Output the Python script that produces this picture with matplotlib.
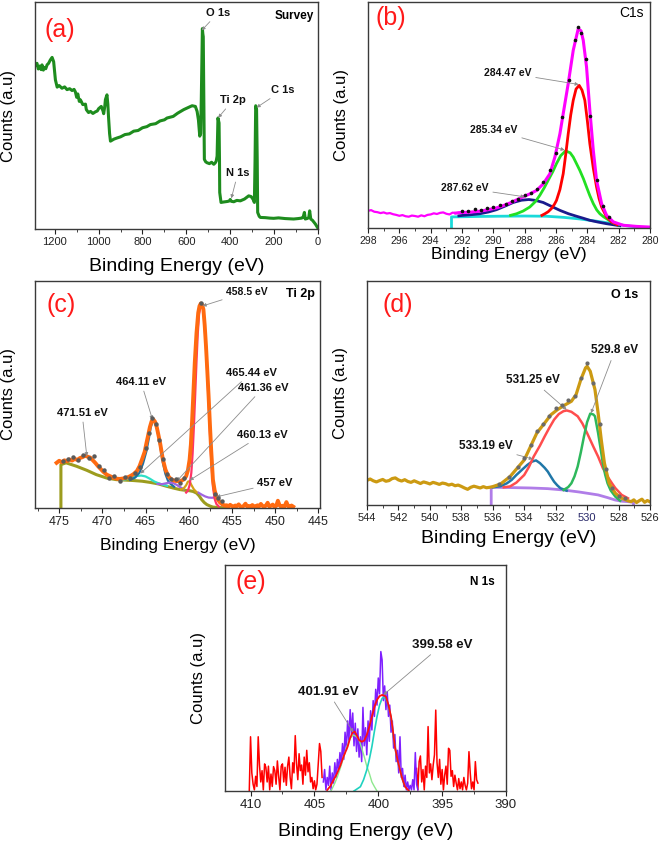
import numpy as np
import matplotlib
matplotlib.use("Agg")
import matplotlib.pyplot as plt
from matplotlib.ticker import MultipleLocator

plt.rcParams['font.family'] = ['Liberation Sans', 'DejaVu Sans']

# ---------------- (a) survey ----------------
survey_be = [1290, 1281, 1275, 1268, 1262, 1258, 1252, 1247, 1241, 1235,
             1228, 1220, 1212, 1205, 1197, 1189, 1180, 1167, 1155, 1144,
             1132, 1121, 1112, 1106, 1100, 1095, 1088, 1083, 1072, 1060,
             1056, 1046, 1037, 1026, 1015, 1006, 1000, 988, 980, 977,
             972, 969, 962, 958, 955, 950, 946, 930, 916, 900,
             880, 860, 840, 820, 800, 780, 764, 740, 720, 700,
             688, 660, 640, 612, 590, 574, 559, 551, 545, 539,
             535, 532, 529, 527, 525, 523, 520, 518, 512, 506,
             495, 485, 475, 468, 464, 460, 458, 456, 453, 451,
             449, 448, 442, 430, 415, 405, 400, 395, 384, 370,
             354, 335, 316, 305, 296, 290, 287, 284, 282, 280,
             277, 275, 268, 263, 240, 220, 202, 180, 150, 130,
             111, 90, 75, 68, 62, 58, 50, 42, 38, 33,
             25, 12, 0]
survey_y = [72.0, 73.0, 70.5, 71.8, 70.2, 72.3, 70.0, 71.2, 70.6, 72.3,
            73.0, 74.5, 75.6, 73.7, 65.7, 62.5, 63.2, 62.0, 62.6, 61.4,
            61.8, 61.0, 61.5, 60.4, 58.0, 59.5, 56.2, 56.9, 54.8, 55.0,
            52.6, 51.3, 51.8, 50.9, 51.6, 52.0, 53.0, 54.0, 52.0, 50.8,
            54.0, 57.0, 59.1, 55.0, 49.6, 42.0, 38.7, 39.6, 40.1, 40.6,
            41.6, 41.9, 43.1, 43.4, 44.6, 45.1, 46.0, 46.4, 47.6, 48.1,
            48.9, 49.6, 51.0, 52.6, 53.6, 54.3, 54.0, 51.8, 48.0, 40.9,
            42.0, 56.9, 75.0, 88.3, 86.0, 84.7, 55.0, 30.7, 29.6, 29.2,
            28.8, 29.4, 28.5, 29.2, 29.9, 32.1, 40.0, 48.9, 47.5, 46.7,
            30.0, 16.1, 11.7, 11.9, 12.1, 12.3, 13.0, 12.2, 12.0, 12.6,
            12.4, 13.2, 14.6, 14.3, 13.1, 11.7, 30.0, 54.3, 53.5, 52.6,
            30.0, 7.3, 5.6, 5.1, 5.0, 4.8, 4.7, 4.9, 4.6, 4.5,
            4.4, 4.6, 4.8, 5.1, 7.3, 4.4, 4.6, 5.0, 8.0, 4.4,
            3.8, 2.2, 0.3]

# ---------------- (b) C1s ----------------
c1s_noise_y = [7.6, 7.9, 7.2, 7.0, 6.6, 6.9, 6.4, 6.6, 6.1, 5.8,
               5.4, 5.7, 5.2, 5.0, 5.5, 5.3, 5.0, 5.6, 5.2, 5.8,
               6.0, 6.5, 6.2, 6.7, 6.9, 6.3, 6.0, 6.8, 6.6]
c1s_env_be = [292.2, 291.5, 290.9, 290.4, 289.8, 289.4, 288.9, 288.5, 288.1, 287.7,
              287.24, 286.82, 286.39, 286.07, 285.75, 285.54, 285.22, 284.9, 284.58, 284.4,
              284.26, 284.05, 283.84, 283.62, 283.41, 283.09, 282.77, 282.34, 281.71, 280.85,
              280.0]
c1s_env_y = [6.8, 7.0, 7.4, 8.0, 8.9, 9.8, 11.2, 12.5, 13.8, 15.0,
             16.6, 19.5, 24.0, 31.4, 41.7, 50.6, 63.9, 78.6, 88.2, 87.2,
             83.0, 71.2, 52.1, 34.4, 21.1, 10.8, 5.6, 2.7, 1.2, 0.7,
             0.4]
c1s_red_be = [286.9, 286.71, 286.5, 286.29, 286.1, 285.97, 285.75, 285.54, 285.38, 285.22,
              285.06, 284.9, 284.72, 284.52, 284.34, 284.16, 284.0, 283.84, 283.62, 283.41,
              283.25, 283.09, 282.77, 282.45, 282.1]
c1s_red_y = [5.6, 6.3, 7.2, 8.6, 10.5, 12.2, 17.0, 24.0, 32.5, 41.7,
             50.0, 56.5, 61.5, 63.1, 61.0, 56.5, 47.5, 37.3, 26.5, 18.1,
             13.0, 9.3, 4.9, 2.7, 1.5]
c1s_green_be = [288.9, 288.52, 288.1, 287.67, 287.3, 287.03, 286.75, 286.5, 286.2, 285.97,
                285.7, 285.39, 285.1, 284.9, 284.7, 284.48, 284.25, 284.05, 283.84, 283.62,
                283.4, 283.2, 282.97, 282.77, 282.34, 282.0]
c1s_green_y = [5.6, 6.3, 7.5, 9.3, 11.8, 14.5, 17.8, 21.1, 25.0, 28.5,
               32.0, 34.1, 33.3, 31.4, 28.6, 25.5, 21.8, 18.1, 14.3, 10.8,
               8.0, 6.3, 5.0, 4.1, 2.2, 1.4]
c1s_navy_be = [292.2, 291.93, 291.4, 290.86, 290.3, 289.8, 289.25, 288.73, 288.2, 287.73,
               287.3, 286.82, 286.3, 285.75, 285.2, 284.69, 284.25, 283.84, 283.3, 282.77,
               282.3, 281.92]
c1s_navy_y = [5.4, 5.6, 5.9, 6.3, 7.1, 8.1, 9.7, 11.3, 12.3, 12.6,
              12.2, 11.3, 9.6, 7.8, 6.3, 5.2, 4.3, 3.4, 2.6, 1.9,
              1.4, 1.0]
c1s_base_be = [292.67, 292.67, 291.0, 289.8, 288.0, 286.61, 285.5, 284.48, 283.4, 282.34, 281.5, 280.64]
c1s_base_y = [0, 4.9, 5.1, 5.2, 5.3, 5.2, 4.7, 4.0, 3.0, 1.9, 1.0, 0.3]
c1s_dots_be = [292.0, 291.6, 291.2, 290.8, 290.4, 290.0, 289.6, 289.2, 288.8, 288.4,
               288.0, 287.6, 287.2, 286.8, 286.4, 286.0, 285.6, 285.2, 284.8, 284.6,
               284.4, 284.1, 283.8, 283.4, 283.0, 282.6]
c1s_dots_y = [7.6, 7.4, 8.2, 8.0, 8.9, 9.2, 10.1, 10.6, 11.9, 12.8,
              14.6, 15.4, 17.4, 20.3, 25.8, 33.0, 49.0, 65.5, 83.0, 89.0,
              86.5, 75.0, 49.5, 21.2, 9.6, 4.8]

# ---------------- (c) Ti 2p ----------------
ti_env_be = [475.3, 475.0, 474.7, 474.4, 474.1, 473.8, 473.5, 473.2, 472.9, 472.6,
             472.3, 472.0, 471.7, 471.4, 471.1, 470.8, 470.5, 470.2, 469.9, 469.5,
             469.1, 468.7, 468.3, 468.0, 467.6, 467.2, 466.8, 466.4, 466.0, 465.7,
             465.4, 465.1, 464.9, 464.7, 464.5, 464.3, 464.1, 463.9, 463.7, 463.5,
             463.3, 463.0, 462.7, 462.4, 462.1, 461.8, 461.5, 461.2, 460.9, 460.6,
             460.3, 460.1, 459.9, 459.75, 459.6, 459.45, 459.3, 459.1, 458.9, 458.75,
             458.6, 458.45, 458.3, 458.15, 458.0, 457.85, 457.7, 457.55, 457.4, 457.2,
             457.0, 456.8, 456.6, 456.4, 456.1, 455.8]
ti_env_y = [19.9, 20.8, 20.2, 21.0, 20.6, 21.4, 20.9, 21.6, 21.2, 22.0,
            22.4, 23.0, 22.6, 22.2, 21.0, 19.8, 18.4, 17.2, 16.0, 14.7,
            14.0, 13.3, 12.9, 12.8, 13.0, 13.3, 14.0, 14.9, 16.3, 18.4,
            21.5, 24.8, 28.5, 32.0, 35.6, 38.2, 39.0, 38.0, 35.6, 32.0,
            28.3, 21.5, 17.0, 14.2, 12.9, 12.2, 11.9, 11.8, 12.0, 12.5,
            14.0, 16.5, 21.3, 28.0, 39.0, 51.5, 64.0, 77.0, 86.0, 89.0,
            90.1, 89.5, 87.5, 80.5, 71.3, 60.5, 49.3, 37.0, 25.5, 12.5,
            7.8, 5.1, 3.6, 2.5, 1.6, 1.0]
ti_tail_y = [1.2, 0.6, 1.4, 0.9, 0.4, 1.1, 0.8, 1.6, 0.7, 0.3,
             1.0, 1.9, 0.6, 0.9, 0.4, 1.3, 0.8, 0.5, 1.2, 0.7,
             1.8, 0.9, 0.4, 1.1, 2.3, 0.6, 1.0, 1.5, 0.5, 0.9,
             3.2, 1.2, 0.4, 1.0, 0.7, 2.6, 0.8, 0.5, 1.1, 0.6]
ti_olive_be = [474.8, 474.8, 474.2, 473.0, 471.8, 470.7, 469.5, 468.4, 467.4, 466.4,
               465.4, 464.5, 463.5, 462.6, 461.8, 461.0, 460.4, 459.9, 459.5, 459.1,
               458.8, 458.5, 458.2, 457.9, 457.5, 457.2, 456.5, 455.6]
ti_olive_y = [0, 19.1, 19.9, 18.4, 16.6, 14.7, 13.2, 12.5, 12.3, 12.1,
              11.8, 11.3, 10.6, 9.6, 8.8, 8.1, 7.8, 7.6, 7.3, 6.6,
              5.4, 3.7, 2.4, 1.5, 0.8, 0.4, 0.2, 0.1]
ti_blue_be = [466.8, 466.2, 465.7, 465.3, 464.9, 464.6, 464.4, 464.2, 464.0, 463.8,
              463.6, 463.3, 463.0, 462.7, 462.4, 462.1, 461.7]
ti_blue_y = [12.4, 13.4, 15.6, 19.5, 25.0, 31.0, 35.5, 38.0, 38.2, 36.8,
             33.6, 27.2, 20.0, 15.0, 12.0, 10.6, 9.4]
ti_cyan_be = [467.6, 467.0, 466.5, 466.0, 465.5, 465.0, 464.5, 464.0, 463.5, 463.0, 462.5]
ti_cyan_y = [12.4, 12.9, 13.6, 14.1, 14.3, 13.9, 12.9, 11.7, 10.9, 10.3, 9.8]
ti_purple1_be = [463.6, 463.1, 462.6, 462.2, 461.8, 461.4, 461.0, 460.6]
ti_purple1_y = [10.6, 10.5, 10.9, 11.2, 11.0, 10.2, 9.2, 8.3]
ti_purple2_be = [458.9, 458.5, 458.1, 457.7, 457.3, 457.0, 456.7, 456.4, 456.1]
ti_purple2_y = [6.8, 5.9, 5.1, 4.6, 4.5, 4.7, 4.0, 2.4, 1.2]
ti_gold_be = [460.9, 460.6, 460.3, 460.1, 459.9, 459.7, 459.4, 459.1]
ti_gold_y = [8.2, 8.6, 10.0, 11.6, 11.8, 10.2, 8.2, 7.0]
ti_red_be = [460.3, 460.1, 459.9, 459.7, 459.55, 459.4, 459.25, 459.1, 458.95, 458.8,
             458.6, 458.45, 458.3, 458.15, 458.0, 457.85, 457.7, 457.55, 457.4, 457.2,
             457.0, 456.8, 456.5]
ti_red_y = [6.8, 7.6, 10.0, 15.5, 24.0, 36.0, 50.0, 64.5, 77.0, 85.5,
            89.6, 89.0, 86.5, 79.5, 70.5, 59.0, 46.5, 33.5, 21.5, 9.5,
            4.0, 1.8, 0.6]
ti_dots_be = [474.6, 474.0, 473.4, 472.8, 472.2, 471.6, 471.0, 470.4, 469.8, 469.2,
              468.6, 468.0, 467.4, 466.8, 466.2, 465.6, 465.0, 464.6, 464.2, 463.8,
              463.4, 463.0, 462.5, 462.0, 461.5, 461.0, 460.5, 458.6, 457.0, 456.6,
              456.2]
ti_dots_y = [20.5, 21.8, 22.6, 21.0, 23.4, 22.0, 22.8, 18.5, 16.7, 13.0,
             14.2, 12.0, 13.8, 13.2, 15.4, 18.0, 26.5, 33.0, 39.8, 37.2,
             30.0, 21.8, 14.8, 12.6, 12.9, 11.2, 13.4, 90.5, 6.0, 4.4,
             3.0]

# ---------------- (d) O 1s ----------------
o1s_noise_y = [11.0, 11.6, 10.8, 10.3, 10.9, 11.4, 10.6, 10.9, 11.8, 12.1,
               11.2, 10.7, 11.3, 10.5, 10.1, 10.8, 10.2, 9.6, 10.3, 9.9,
               9.4, 10.1, 9.7, 9.2, 9.8, 9.5, 8.9, 9.3, 8.6, 8.9,
               8.3, 7.6, 7.0, 7.9, 8.4, 8.0, 7.6, 8.2, 7.7, 7.9]
o1s_env_be = [536.0, 535.5, 534.9, 534.5, 534.0, 533.6, 533.2, 532.7, 532.3, 531.9,
              531.5, 531.0, 530.7, 530.4, 530.1, 530.0, 529.8, 529.5, 529.3, 529.1,
              528.9, 528.6, 528.2, 527.8, 527.4]
o1s_env_y = [8.2, 9.4, 12.7, 16.0, 20.1, 26.1, 32.1, 36.6, 40.3, 42.5,
             44.3, 46.3, 49.3, 56.0, 61.2, 61.9, 59.7, 51.5, 41.0, 29.1,
             18.7, 9.7, 5.2, 3.0, 1.9]
o1s_tail_y = [1.5, 2.3, 1.1, 1.9, 2.6, 1.2, 2.0, 1.4]
o1s_red_be = [535.3, 534.9, 534.5, 534.0, 533.7, 533.4, 533.0, 532.7, 532.4, 532.1,
              531.8, 531.5, 531.29, 531.0, 530.6, 530.3, 530.0, 529.6, 529.3, 529.0,
              528.7, 528.4, 528.2, 527.8, 527.4]
o1s_red_y = [7.9, 8.3, 10.0, 13.4, 17.0, 21.6, 26.5, 30.6, 34.5, 38.1,
             40.6, 41.9, 42.2, 41.6, 39.6, 36.4, 32.1, 26.0, 21.6, 16.5,
             12.7, 9.5, 7.5, 4.5, 3.0]
o1s_blue_be = [536.0, 535.5, 535.1, 534.8, 534.5, 534.1, 533.8, 533.5, 533.25, 533.0,
               532.7, 532.5, 532.3, 532.1, 531.9, 531.7, 531.3]
o1s_blue_y = [7.9, 8.4, 9.7, 11.2, 13.4, 16.0, 17.9, 19.4, 19.9, 18.7,
              16.6, 14.9, 12.6, 10.4, 8.8, 7.5, 6.4]
o1s_green_be = [531.5, 531.2, 531.0, 530.8, 530.6, 530.4, 530.2, 530.0, 529.8, 529.6,
                529.5, 529.3, 529.15, 529.0, 528.85, 528.7, 528.5, 528.2, 527.9]
o1s_green_y = [6.7, 8.0, 9.7, 12.8, 17.2, 23.5, 30.6, 37.0, 40.8, 40.4,
               39.6, 32.1, 25.5, 18.7, 13.5, 9.7, 6.5, 3.7, 1.9]
o1s_base_be = [536.1, 536.1, 535.0, 533.6, 532.5, 531.5, 530.5, 529.3, 528.7, 528.2, 527.8, 527.4, 527.05, 527.05]
o1s_base_y = [0, 7.9, 7.8, 7.6, 7.3, 6.7, 5.8, 4.5, 3.3, 2.2, 1.7, 1.5, 1.2, 0]
o1s_dots_be = [535.6, 535.0, 534.4, 534.0, 533.6, 533.2, 532.8, 532.4, 532.0, 531.6,
               531.2, 530.8, 530.4, 530.0, 529.6, 529.2, 528.8, 528.4, 528.0, 527.6]
o1s_dots_y = [9.5, 12.4, 17.0, 21.0, 26.8, 32.9, 36.2, 39.8, 43.2, 44.6,
              47.0, 48.8, 56.8, 63.5, 54.5, 36.0, 16.0, 7.5, 4.2, 3.0]

# ---------------- (e) N 1s ----------------
n1s_left_y = [0, 24.0, 8.0, 3.0, 0.5, 6.5, 2.0, 24.0, 11.5, 4.0,
              9.0, 0.5, 12.0, 10.5, 4.0, 11.0, 0.5, 7.5, 2.0, 10.8,
              9.0, 3.0, 13.3, 6.5, 0.5, 11.0, 12.0, 4.0, 10.5, 2.5,
              11.0, 15.0, 6.0, 1.0, 12.5, 8.0, 24.5, 12.0, 5.0, 16.5,
              9.0, 11.5, 3.0, 15.0, 7.0, 18.0, 8.5, 12.5, 4.0, 6.0,
              1.0, 4.5, 0.5, 3.0, 12.0, 21.0, 17.5, 6.0]
n1s_mid_y = [4.0, 9.5, 0.5, 6.0, 2.5, 11.0, 0.5, 8.0, 3.5, 12.5,
             6.0, 14.0, 9.0, 17.0, 11.5, 21.0, 14.0, 26.0, 18.0, 31.0,
             22.0, 36.0, 25.0, 34.5, 20.0, 30.0, 17.5, 27.5, 15.0, 24.0,
             13.0, 37.0, 20.0, 28.0, 16.0, 31.0, 22.0, 35.5, 27.0, 40.0,
             33.0, 45.0, 38.0, 50.0, 43.0, 61.7, 58.0, 40.0, 46.5, 36.0,
             44.0, 33.0, 38.0, 26.0, 31.0, 19.0, 25.0, 13.0, 18.0, 8.0,
             24.0, 6.0, 10.0, 2.0, 7.0, 0.5, 4.0, 0.5, 2.5, 0.5,
             5.0, 0.5, 17.0, 3.0, 0.5]
n1s_right_y = [10.0, 0.5, 13.0, 15.5, 4.0, 9.5, 0.5, 11.0, 6.0, 28.5,
               8.0, 12.0, 5.0, 11.5, 16.0, 35.8, 12.5, 6.0, 14.0, 3.0,
               9.5, 0.5, 7.0, 11.0, 3.0, 18.9, 18.0, 6.5, 9.0, 2.0,
               7.0, 3.5, 0.5, 5.5, 1.0, 4.0, 0.5, 6.0, 2.5, 0.5,
               3.5, 17.4, 8.0, 1.0, 4.0, 0.5, 13.0, 5.0, 3.5]
n1s_fit_be = [404.0, 403.75, 403.5, 403.25, 403.0, 402.7, 402.4, 402.2, 402.0, 401.85,
              401.7, 401.5, 401.3, 401.1, 400.9, 400.7, 400.5, 400.3, 400.1, 399.9,
              399.7, 399.55, 399.4, 399.2, 399.0, 398.85, 398.7, 398.5, 398.3, 398.1,
              397.9, 397.6]
n1s_fit_y = [0.4, 2.2, 4.9, 7.5, 10.8, 15.5, 19.6, 23.5, 26.0, 26.3,
             24.8, 22.5, 21.8, 22.3, 24.8, 28.5, 32.9, 37.2, 40.3, 42.0,
             42.5, 42.3, 41.7, 38.0, 32.9, 26.5, 19.6, 14.0, 9.3, 5.0,
             1.9, 0]
n1s_green_be = [403.7, 403.4, 403.2, 402.95, 402.7, 402.45, 402.2, 401.95, 401.7, 401.5,
                401.3, 401.1, 400.9, 400.7, 400.5, 400.3, 400.1]
n1s_green_y = [0, 3.5, 6.3, 10.5, 15.2, 19.8, 23.3, 24.8, 24.0, 22.6,
               19.0, 15.2, 11.0, 7.8, 4.0, 1.9, 0]
n1s_cyan_be = [401.9, 401.4, 401.15, 400.9, 400.7, 400.5, 400.3, 400.1, 399.9, 399.7,
               399.5, 399.3, 399.0, 398.85, 398.7, 398.5, 398.3, 398.1, 397.9]
n1s_cyan_y = [0, 1.9, 5.0, 9.3, 14.0, 19.6, 26.5, 32.9, 38.0, 41.0,
              41.6, 39.5, 32.9, 26.0, 19.6, 13.5, 9.3, 5.0, 1.9]

W, H = 661, 844
fig = plt.figure(figsize=(W / 100, H / 100), dpi=100)


def make_axes(left, top, right, bottom):
    return fig.add_axes([left / W, 1 - bottom / H, (right - left) / W, (bottom - top) / H])


def style(ax, xlim, major, minor, tick_size, xlab_size, xlab_gap, px_w, px_h):
    ax.set_xlim(*xlim)
    ax.set_ylim(0, 100)
    ax.set_yticks([])
    ax.xaxis.set_major_locator(MultipleLocator(major))
    ax.xaxis.set_minor_locator(MultipleLocator(minor))
    ax.tick_params(axis='x', which='major', direction='out', length=3.5, width=0.8,
                   labelsize=tick_size, pad=2, colors='#222222')
    ax.tick_params(axis='x', which='minor', direction='out', length=2, width=0.6, colors='#222222')
    for s in ax.spines.values():
        s.set_color('#3a3a3a')
        s.set_linewidth(1.0)
    ax.set_xlabel('Binding Energy (eV)', fontsize=xlab_size)
    ax.xaxis.set_label_coords(0.5, -xlab_gap / px_h)
    ax.set_ylabel('Counts (a.u)', fontsize=12)
    ax.yaxis.set_label_coords(-19 / px_w, 0.5)


def panel_letter(ax, s, x, y):
    ax.text(x, y, s, transform=ax.transAxes, color='#ff1a1a', fontsize=18,
            ha='center', va='center')


def note(ax, s, xy, xytext, size=8, bold=True):
    ax.annotate(s, xy=xy, xycoords='data', xytext=xytext, textcoords='axes fraction',
                ha='center', va='center', fontsize=size,
                fontweight='bold' if bold else 'normal', color='#111111',
                arrowprops=dict(arrowstyle='-|>', color='#8c8c8c', lw=0.6,
                                mutation_scale=5, shrinkA=1, shrinkB=0))


# (a)
ax = make_axes(35, 2, 318, 229)
ax.plot(survey_be, survey_y, color='#1e8c1e', lw=2.2)
style(ax, (1290, 0), 200, 100, 8, 14, 29, 283, 227)
panel_letter(ax, '(a)', 0.088, 0.877)
ax.text(0.915, 0.938, 'Survey', transform=ax.transAxes, fontsize=8.5, fontweight='bold',
        ha='center', va='center')
note(ax, 'O 1s', (530, 87.5), (0.647, 0.952))
note(ax, 'Ti 2p', (455, 49), (0.70, 0.568))
note(ax, 'C 1s', (280, 53.5), (0.876, 0.612))
note(ax, 'N 1s', (395, 13.5), (0.717, 0.247))

# (b)
ax = make_axes(368, 2, 650, 228)
ax.plot(c1s_base_be, c1s_base_y, color='#19d9d9', lw=2)
ax.plot(c1s_navy_be, c1s_navy_y, color='#1a1a8c', lw=2)
ax.plot(c1s_green_be, c1s_green_y, color='#22e022', lw=2)
ax.plot(c1s_red_be, c1s_red_y, color='#ff0000', lw=2)
ax.plot(np.linspace(298, 292.4, len(c1s_noise_y)), c1s_noise_y, color='#ff00ff', lw=1.6)
ax.plot([292.4] + c1s_env_be, [c1s_noise_y[-1]] + c1s_env_y, color='#ff00ff', lw=2.2)
ax.plot(c1s_dots_be, c1s_dots_y, 'o', color='#111111', ms=1.6, zorder=5)
style(ax, (298, 280), 2, 1, 7.5, 12.5, 19, 282, 226)
panel_letter(ax, '(b)', 0.082, 0.93)
ax.text(0.936, 0.95, 'C1s', transform=ax.transAxes, fontsize=10, ha='center', va='center')
note(ax, '284.47 eV', (284.55, 63.5), (0.496, 0.686), 7.5)
note(ax, '285.34 eV', (285.45, 34.5), (0.447, 0.434), 7.5)
note(ax, '287.62 eV', (288.0, 13.8), (0.344, 0.177), 7.5)

# (c)
ax = make_axes(35, 281, 320, 508)
ax.plot(ti_olive_be, ti_olive_y, color='#9c9c1e', lw=2.2)
ax.plot(ti_cyan_be, ti_cyan_y, color='#2ee0c8', lw=1.6)
ax.plot(ti_blue_be, ti_blue_y, color='#1f6fa0', lw=1.6)
ax.plot(ti_purple1_be, ti_purple1_y, color='#a064e0', lw=1.6)
ax.plot(ti_purple2_be, ti_purple2_y, color='#a064e0', lw=1.6)
ax.plot(ti_gold_be, ti_gold_y, color='#d4a017', lw=1.6)
ax.plot(ti_red_be, ti_red_y, color='#ff3366', lw=1.6)
ax.plot(ti_env_be + list(np.linspace(455.6, 447.9, len(ti_tail_y))), ti_env_y + ti_tail_y,
        color='#ff6a10', lw=2.8)
ax.plot(ti_dots_be, ti_dots_y, 'o', color='#5a5a5a', ms=2.2, zorder=5)
style(ax, (477.8, 444.8), 5, 2.5, 9, 12.5, 30, 285, 227)
panel_letter(ax, '(c)', 0.091, 0.894)
ax.text(0.93, 0.943, 'Ti 2p', transform=ax.transAxes, fontsize=9, fontweight='bold',
        ha='center', va='center')
note(ax, '458.5 eV', (458.4, 89), (0.744, 0.952), 7.5)
note(ax, '465.44 eV', (465.6, 15.2), (0.758, 0.595))
note(ax, '461.36 eV', (461.4, 11.8), (0.80, 0.529))
note(ax, '460.13 eV', (459.9, 12.2), (0.796, 0.322))
note(ax, '457 eV', (456.8, 4.9), (0.842, 0.110))
note(ax, '464.11 eV', (464.2, 39), (0.372, 0.555))
note(ax, '471.51 eV', (471.8, 22.8), (0.165, 0.419))

# (d)
ax = make_axes(367, 281, 650, 505)
ax.plot(o1s_base_be, o1s_base_y, color='#b07de8', lw=2)
ax.plot(o1s_blue_be, o1s_blue_y, color='#2077a8', lw=1.8)
ax.plot(o1s_red_be, o1s_red_y, color='#ff4d4d', lw=1.8)
ax.plot(o1s_green_be, o1s_green_y, color='#2eb85c', lw=1.8)
gold_be = list(np.linspace(544.0, 536.2, len(o1s_noise_y))) + o1s_env_be + \
    list(np.linspace(527.2, 526.0, len(o1s_tail_y)))
ax.plot(gold_be, o1s_noise_y + o1s_env_y + o1s_tail_y, color='#cc9a12', lw=2.3)
ax.plot(o1s_dots_be, o1s_dots_y, 'o', color='#6a6a6a', ms=2.0, zorder=5)
style(ax, (544, 526), 2, 1, 8, 14, 25, 283, 224)
for t in ax.get_xticklabels():
    if t.get_text() == '530':
        t.set_color('#2a2a6a')
panel_letter(ax, '(d)', 0.11, 0.893)
ax.text(0.912, 0.937, 'O 1s', transform=ax.transAxes, fontsize=9, fontweight='bold',
        ha='center', va='center')
note(ax, '529.8 eV', (529.75, 41), (0.876, 0.69), 8.5)
note(ax, '531.25 eV', (531.3, 42.5), (0.587, 0.556), 8.5)
note(ax, '533.19 eV', (533.45, 20.5), (0.42, 0.262), 8.5)

# (e)
ax = make_axes(225, 565, 506, 791)
ax.plot(np.linspace(410.1, 404.4, len(n1s_left_y)), n1s_left_y, color='#ff0000', lw=1.1)
ax.plot(np.linspace(397.0, 392.2, len(n1s_right_y)), n1s_right_y, color='#ff0000', lw=1.1)
ax.plot(np.linspace(404.3, 396.9, len(n1s_mid_y)), n1s_mid_y, color='#7f1fff', lw=1.1)
ax.plot(n1s_green_be, n1s_green_y, color='#8ee88e', lw=1.0)
ax.plot(n1s_cyan_be, n1s_cyan_y, color='#1fd2c0', lw=1.2)
ax.plot(n1s_fit_be, n1s_fit_y, color='#ff1010', lw=1.3)
style(ax, (412, 390), 5, 2.5, 9.5, 14, 32, 281, 226)
panel_letter(ax, '(e)', 0.093, 0.925)
ax.text(0.915, 0.925, 'N 1s', transform=ax.transAxes, fontsize=8.5, fontweight='bold',
        ha='center', va='center')
note(ax, '401.91 eV', (401.95, 26), (0.367, 0.438), 9.5)
note(ax, '399.58 eV', (399.6, 42.5), (0.772, 0.646), 9.5)

fig.savefig('out.png', dpi=100)
